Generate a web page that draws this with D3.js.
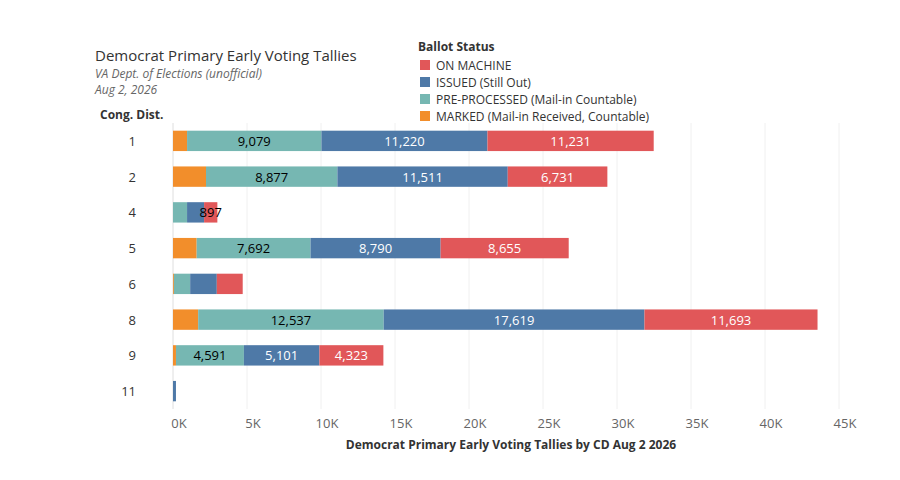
<!DOCTYPE html>
<html><head><meta charset="utf-8">
<script src="https://cdn.jsdelivr.net/npm/d3@7"></script>
<style>body{margin:0;background:#fff;font-family:"Open Sans",sans-serif}</style>
</head><body><svg id="c" width="900" height="480"></svg>
<script>
const districts = ["1","2","4","5","6","8","9","11"];
const marked = [950, 2230, 0, 1600, 60, 1700, 200, 0];
const preProcessed = [9079, 8877, 950, 7692, 1100, 12537, 4591, 0];
const issued = [11220, 11511, 1150, 8790, 1800, 17619, 5101, 200];
const onMachine = [11231, 6731, 897, 8655, 1750, 11693, 4323, 0];
const xTicks = [0, 5000, 10000, 15000, 20000, 25000, 30000, 35000, 40000, 45000];
const series = [
  {key: "MARKED (Mail-in Received, Countable)", vals: marked, color: "#f28e2b", text: "#000"},
  {key: "PRE-PROCESSED (Mail-in Countable)", vals: preProcessed, color: "#76b7b2", text: "#000"},
  {key: "ISSUED (Still Out)", vals: issued, color: "#4e79a7", text: "#fff"},
  {key: "ON MACHINE", vals: onMachine, color: "#e15759", text: "#fff"}
];

const svg = d3.select("#c");
const x = d3.scaleLinear().domain([0, 45000]).range([173, 839]);
const y = d3.scaleBand().domain(districts).range([123, 409]).paddingInner(0.43).paddingOuter(0.215);

svg.append("g").selectAll("line").data(xTicks).enter().append("line")
  .attr("x1", d => x(d)).attr("x2", d => x(d)).attr("y1", 123).attr("y2", 409)
  .attr("stroke", "#f0f0f0");
svg.append("line").attr("x1", 173).attr("x2", 173).attr("y1", 123).attr("y2", 409).attr("stroke", "#e6e6e6");

svg.append("g").selectAll("text").data(xTicks).enter().append("text")
  .attr("x", d => x(d) + 6).attr("y", 428).attr("text-anchor", "middle")
  .attr("font-size", 13).attr("fill", "#666").text(d => (d / 1000) + "K");

svg.append("g").selectAll("text").data(districts).enter().append("text")
  .attr("x", 136).attr("y", d => y(d) + y.bandwidth() / 2 + 5).attr("text-anchor", "end")
  .attr("font-size", 13).attr("fill", "#333").text(d => d);

districts.forEach((d, i) => {
  let acc = 0;
  series.forEach(s => {
    const v = s.vals[i];
    if (v <= 0) { return; }
    const x0 = x(acc), x1 = x(acc + v);
    svg.append("rect").attr("x", x0).attr("y", y(d)).attr("width", x1 - x0)
      .attr("height", y.bandwidth()).attr("fill", s.color);
    const small = v < 1000 && s.key === "ON MACHINE" && d === "4";
    if (v >= 4000 || small) {
      svg.append("text").attr("x", (x0 + x1) / 2).attr("y", y(d) + y.bandwidth() / 2 + 5)
        .attr("text-anchor", "middle").attr("font-size", 13)
        .attr("fill", small ? "#000" : s.text).text(d3.format(",")(v));
    }
    acc += v;
  });
});

svg.append("text").attr("x", 95).attr("y", 61).attr("font-size", 15).attr("fill", "#333").text("Democrat Primary Early Voting Tallies");
svg.append("text").attr("x", 95).attr("y", 78).attr("font-size", 12).attr("font-style", "italic").attr("fill", "#666").text("VA Dept. of Elections (unofficial)");
svg.append("text").attr("x", 95).attr("y", 94).attr("font-size", 12).attr("font-style", "italic").attr("fill", "#666").text("Aug 2, 2026");
svg.append("text").attr("x", 100).attr("y", 119).attr("font-size", 12).attr("font-weight", "bold").attr("fill", "#333").text("Cong. Dist.");
svg.append("text").attr("x", 511).attr("y", 449).attr("text-anchor", "middle").attr("font-size", 12).attr("font-weight", "bold").attr("fill", "#333").text("Democrat Primary Early Voting Tallies by CD Aug 2 2026");

svg.append("text").attr("x", 418).attr("y", 51).attr("font-size", 12).attr("font-weight", "bold").attr("fill", "#333").text("Ballot Status");
series.slice().reverse().forEach((s, i) => {
  const ly = 60 + i * 17;
  svg.append("rect").attr("x", 420).attr("y", ly).attr("width", 10).attr("height", 10).attr("fill", s.color);
  svg.append("text").attr("x", 436).attr("y", ly + 10).attr("font-size", 12).attr("fill", "#333").text(s.key);
});
</script></body></html>
